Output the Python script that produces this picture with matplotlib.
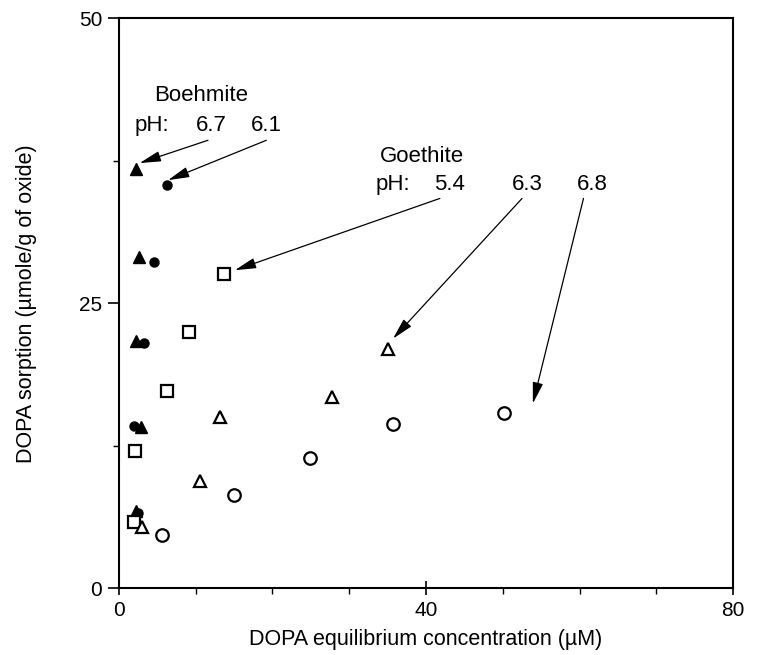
import matplotlib.pyplot as plt
from matplotlib.ticker import MultipleLocator

plt.rcParams['font.family'] = ['Liberation Sans', 'DejaVu Sans']

# Boehmite, pH 6.7 (filled triangles) and pH 6.1 (filled circles)
boe67_x = [2.2, 2.6, 2.2, 2.9, 2.2]
boe67_y = [36.8, 29.1, 21.7, 14.1, 6.8]
boe61_x = [6.25, 4.6, 3.3, 2.0, 2.5]
boe61_y = [35.4, 28.6, 21.5, 14.2, 6.6]

# Goethite, pH 5.4 (open squares), 6.3 (open triangles), 6.8 (open circles)
goe54_x = [13.7, 9.1, 6.25, 2.1, 2.0]
goe54_y = [27.6, 22.5, 17.3, 12.0, 5.8]
goe63_x = [35.0, 27.8, 13.2, 10.6, 3.0]
goe63_y = [21.0, 16.8, 15.0, 9.4, 5.35]
goe68_x = [50.2, 35.7, 24.9, 15.0, 5.6]
goe68_y = [15.4, 14.4, 11.4, 8.2, 4.65]

fig = plt.figure(figsize=(7.67, 6.55), dpi=100)
ax = fig.add_axes([0.155, 0.102, 0.801, 0.870])

ax.plot(boe67_x, boe67_y, '^', color='black', markersize=9, linestyle='none')
ax.plot(boe61_x, boe61_y, 'o', color='black', markersize=6.5, linestyle='none')
ax.plot(goe54_x, goe54_y, 's', mfc='white', mec='black', mew=1.6, markersize=9, linestyle='none')
ax.plot(goe63_x, goe63_y, '^', mfc='white', mec='black', mew=1.6, markersize=8.5, linestyle='none')
ax.plot(goe68_x, goe68_y, 'o', mfc='white', mec='black', mew=1.6, markersize=9, linestyle='none')

ax.set_xlim(0, 80)
ax.set_ylim(0, 50)
ax.set_xticks([0, 40, 80])
ax.set_yticks([0, 25, 50])
ax.xaxis.set_minor_locator(MultipleLocator(10))
ax.yaxis.set_minor_locator(MultipleLocator(12.5))
ax.tick_params(axis='y', which='major', direction='out', length=8, width=1.2, pad=4, labelsize=15)
ax.tick_params(axis='x', which='major', direction='inout', length=10, width=1.2, pad=4, labelsize=15)
ax.tick_params(which='minor', direction='out', length=4, width=1.0)
for s in ax.spines.values():
    s.set_linewidth(1.5)

ax.set_xlabel('DOPA equilibrium concentration (µM)', fontsize=15.5, labelpad=7)
ax.set_ylabel('DOPA sorption (µmole/g of oxide)', fontsize=15.5, labelpad=30)

arrow = dict(arrowstyle='-|>,head_length=1.3,head_width=0.32', color='black', lw=0.9,
             shrinkA=0, shrinkB=0)

# Boehmite labels
ax.text(10.7, 43.2, 'Boehmite', fontsize=16, ha='center', va='center')
ax.text(4.3, 40.6, 'pH:', fontsize=16, ha='center', va='center')
ax.text(12.0, 40.6, '6.7', fontsize=16, ha='center', va='center')
ax.text(19.2, 40.6, '6.1', fontsize=16, ha='center', va='center')
ax.annotate('', xy=(2.7, 37.3), xytext=(11.6, 39.3), arrowprops=arrow)
ax.annotate('', xy=(6.4, 35.8), xytext=(19.2, 39.3), arrowprops=arrow)

# Goethite labels
ax.text(39.5, 37.9, 'Goethite', fontsize=16, ha='center', va='center')
ax.text(35.7, 35.4, 'pH:', fontsize=16, ha='center', va='center')
ax.text(43.1, 35.4, '5.4', fontsize=16, ha='center', va='center')
ax.text(53.2, 35.4, '6.3', fontsize=16, ha='center', va='center')
ax.text(61.6, 35.4, '6.8', fontsize=16, ha='center', va='center')
ax.annotate('', xy=(15.1, 27.9), xytext=(41.8, 34.2), arrowprops=arrow)
ax.annotate('', xy=(35.7, 21.9), xytext=(52.5, 34.2), arrowprops=arrow)
ax.annotate('', xy=(53.9, 16.2), xytext=(60.5, 34.2), arrowprops=arrow)

fig.savefig('out.png', dpi=100)
